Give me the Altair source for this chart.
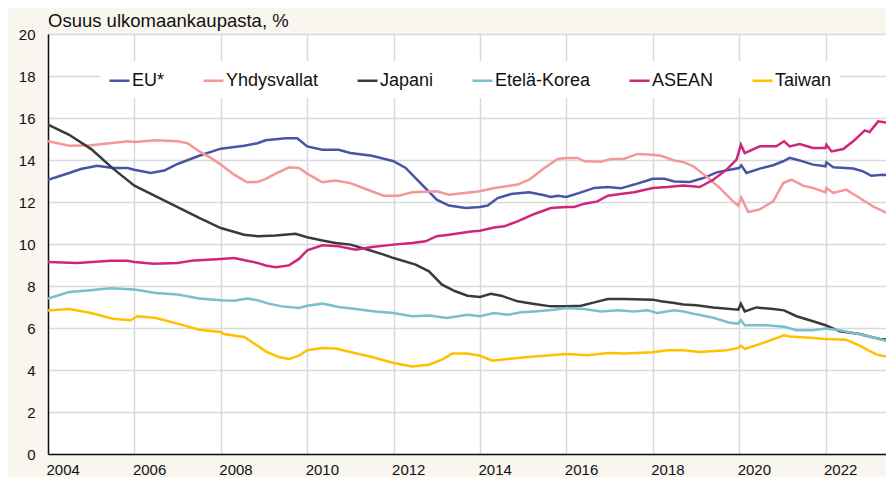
import altair as alt
import pandas as pd

names = ["EU*", "Yhdysvallat", "Japani", "Etelä-Korea", "ASEAN", "Taiwan"]
colors = ["#4a53a4", "#f3979a", "#3a3a3a", "#78c0cc", "#d0267a", "#ffc000"]
x_ticks = [2004, 2006, 2008, 2010, 2012, 2014, 2016, 2018, 2020, 2022]
y_ticks = [0, 2, 4, 6, 8, 10, 12, 14, 16, 18, 20]

eu_t = [2004.0, 2004.49, 2004.76, 2005.14, 2005.5, 2005.84, 2006.0, 2006.38, 2006.69, 2007.0, 2007.5, 2008.0, 2008.54, 2008.85, 2009.04, 2009.5, 2009.77, 2010.0, 2010.35, 2010.73, 2011.0, 2011.5, 2012.0, 2012.28, 2012.51, 2013.0, 2013.28, 2013.67, 2014.0, 2014.18, 2014.41, 2014.72, 2015.14, 2015.49, 2015.64, 2015.8, 2016.0, 2016.34, 2016.65, 2016.96, 2017.26, 2017.57, 2018.0, 2018.27, 2018.5, 2018.86, 2019.17, 2019.48, 2019.78, 2020.0, 2020.05, 2020.17, 2020.48, 2020.79, 2021.02, 2021.17, 2021.4, 2021.71, 2022.0, 2022.02, 2022.18, 2022.64, 2022.87, 2023.06, 2023.33, 2023.58]
eu_v = [13.06, 13.38, 13.57, 13.73, 13.62, 13.62, 13.54, 13.38, 13.5, 13.81, 14.2, 14.54, 14.68, 14.8, 14.94, 15.03, 15.03, 14.65, 14.49, 14.49, 14.33, 14.2, 13.94, 13.62, 13.14, 12.11, 11.83, 11.71, 11.76, 11.83, 12.19, 12.38, 12.46, 12.32, 12.24, 12.3, 12.24, 12.46, 12.67, 12.71, 12.65, 12.83, 13.11, 13.11, 12.98, 12.95, 13.14, 13.41, 13.54, 13.62, 13.75, 13.38, 13.59, 13.75, 13.94, 14.1, 13.98, 13.78, 13.7, 13.89, 13.65, 13.59, 13.46, 13.25, 13.3, 13.25]

us_t = [2004.0, 2004.49, 2005.0, 2005.5, 2005.84, 2006.0, 2006.5, 2007.0, 2007.23, 2007.5, 2007.77, 2008.0, 2008.31, 2008.61, 2008.85, 2009.04, 2009.27, 2009.58, 2009.81, 2010.0, 2010.35, 2010.66, 2011.0, 2011.43, 2011.77, 2012.12, 2012.43, 2013.0, 2013.28, 2013.75, 2014.0, 2014.33, 2014.87, 2015.14, 2015.49, 2015.8, 2016.0, 2016.26, 2016.42, 2016.8, 2017.03, 2017.34, 2017.65, 2018.0, 2018.19, 2018.5, 2018.71, 2018.94, 2019.24, 2019.55, 2019.86, 2019.98, 2020.05, 2020.21, 2020.48, 2020.79, 2021.02, 2021.21, 2021.48, 2021.71, 2022.0, 2022.02, 2022.18, 2022.48, 2022.79, 2023.1, 2023.58]
us_v = [14.89, 14.68, 14.7, 14.81, 14.89, 14.86, 14.94, 14.89, 14.8, 14.41, 14.1, 13.78, 13.3, 12.94, 12.95, 13.1, 13.35, 13.65, 13.62, 13.35, 12.94, 13.02, 12.9, 12.56, 12.3, 12.3, 12.46, 12.51, 12.35, 12.45, 12.51, 12.67, 12.83, 13.06, 13.62, 14.05, 14.1, 14.1, 13.94, 13.92, 14.05, 14.06, 14.29, 14.25, 14.2, 13.98, 13.9, 13.7, 13.22, 12.67, 12.03, 11.83, 12.21, 11.52, 11.65, 12.03, 12.9, 13.06, 12.78, 12.67, 12.46, 12.67, 12.43, 12.59, 12.19, 11.79, 11.32]

jp_t = [2004.0, 2004.49, 2005.0, 2005.5, 2006.0, 2006.5, 2007.0, 2007.5, 2008.0, 2008.54, 2008.85, 2009.27, 2009.73, 2010.0, 2010.35, 2010.66, 2011.0, 2011.35, 2011.74, 2012.0, 2012.51, 2012.82, 2013.12, 2013.43, 2013.71, 2014.0, 2014.25, 2014.49, 2014.87, 2015.26, 2015.64, 2016.0, 2016.34, 2016.65, 2016.96, 2017.34, 2018.0, 2018.19, 2018.5, 2018.71, 2019.01, 2019.4, 2019.98, 2020.04, 2020.13, 2020.4, 2020.79, 2021.04, 2021.33, 2021.71, 2022.0, 2022.33, 2022.79, 2023.06, 2023.26, 2023.58]
jp_v = [15.68, 15.2, 14.52, 13.6, 12.78, 12.27, 11.76, 11.24, 10.76, 10.44, 10.37, 10.4, 10.49, 10.32, 10.17, 10.05, 9.97, 9.76, 9.52, 9.33, 9.02, 8.7, 8.06, 7.75, 7.54, 7.48, 7.63, 7.54, 7.27, 7.14, 7.03, 7.03, 7.06, 7.22, 7.38, 7.38, 7.35, 7.27, 7.19, 7.12, 7.08, 6.98, 6.87, 7.16, 6.79, 6.98, 6.9, 6.84, 6.56, 6.32, 6.13, 5.84, 5.71, 5.57, 5.48, 5.41]

kr_t = [2004.0, 2004.49, 2004.91, 2005.45, 2006.0, 2006.5, 2007.0, 2007.5, 2008.0, 2008.31, 2008.61, 2008.85, 2009.11, 2009.42, 2009.81, 2010.0, 2010.35, 2010.73, 2011.12, 2011.58, 2012.0, 2012.43, 2012.82, 2013.24, 2013.71, 2014.0, 2014.33, 2014.64, 2014.95, 2015.26, 2015.72, 2016.0, 2016.42, 2016.8, 2017.19, 2017.57, 2017.88, 2018.11, 2018.5, 2018.71, 2019.01, 2019.4, 2019.78, 2019.98, 2020.04, 2020.13, 2020.63, 2021.04, 2021.33, 2021.71, 2022.0, 2022.33, 2022.79, 2023.06, 2023.58]
kr_v = [7.4, 7.71, 7.79, 7.89, 7.83, 7.67, 7.59, 7.4, 7.32, 7.3, 7.4, 7.32, 7.16, 7.03, 6.95, 7.06, 7.16, 7.0, 6.9, 6.79, 6.71, 6.56, 6.59, 6.48, 6.63, 6.56, 6.71, 6.63, 6.75, 6.79, 6.87, 6.95, 6.9, 6.79, 6.84, 6.79, 6.84, 6.71, 6.84, 6.79, 6.65, 6.49, 6.25, 6.21, 6.38, 6.13, 6.13, 6.06, 5.89, 5.89, 5.98, 5.89, 5.7, 5.57, 5.3]

as_t = [2004.0, 2004.68, 2005.45, 2005.84, 2006.0, 2006.45, 2007.0, 2007.38, 2008.0, 2008.31, 2008.61, 2008.85, 2009.04, 2009.27, 2009.58, 2009.81, 2010.0, 2010.35, 2010.73, 2011.12, 2011.5, 2012.0, 2012.43, 2012.74, 2013.0, 2013.28, 2013.8, 2014.0, 2014.33, 2014.56, 2014.87, 2015.26, 2015.64, 2016.0, 2016.18, 2016.42, 2016.72, 2016.96, 2017.34, 2017.57, 2018.0, 2018.34, 2018.71, 2019.09, 2019.4, 2019.71, 2019.94, 2020.04, 2020.13, 2020.48, 2020.86, 2021.04, 2021.17, 2021.4, 2021.71, 2022.0, 2022.02, 2022.14, 2022.41, 2022.64, 2022.91, 2023.02, 2023.22, 2023.58]
as_v = [9.14, 9.1, 9.2, 9.2, 9.14, 9.06, 9.1, 9.22, 9.29, 9.33, 9.2, 9.1, 8.98, 8.89, 8.98, 9.29, 9.7, 9.94, 9.89, 9.73, 9.86, 9.97, 10.05, 10.13, 10.37, 10.44, 10.6, 10.63, 10.79, 10.84, 11.08, 11.43, 11.71, 11.76, 11.76, 11.92, 12.03, 12.3, 12.4, 12.46, 12.67, 12.71, 12.78, 12.71, 13.06, 13.54, 14.02, 14.73, 14.33, 14.65, 14.65, 14.89, 14.65, 14.76, 14.57, 14.57, 14.73, 14.41, 14.52, 14.89, 15.41, 15.33, 15.84, 15.73]

tw_t = [2004.0, 2004.49, 2005.0, 2005.5, 2005.91, 2006.07, 2006.5, 2007.0, 2007.5, 2008.0, 2008.07, 2008.54, 2008.85, 2009.04, 2009.34, 2009.58, 2009.81, 2010.0, 2010.35, 2010.66, 2011.0, 2011.5, 2012.0, 2012.43, 2012.82, 2013.12, 2013.36, 2013.71, 2014.0, 2014.29, 2014.64, 2015.1, 2015.64, 2016.0, 2016.49, 2016.96, 2017.34, 2018.0, 2018.34, 2018.71, 2019.09, 2019.71, 2019.98, 2020.04, 2020.13, 2020.56, 2021.04, 2021.17, 2021.71, 2022.0, 2022.48, 2022.79, 2023.18, 2023.58]
tw_v = [6.83, 6.9, 6.71, 6.44, 6.37, 6.56, 6.48, 6.21, 5.92, 5.81, 5.71, 5.57, 5.16, 4.89, 4.62, 4.52, 4.68, 4.94, 5.05, 5.02, 4.86, 4.62, 4.33, 4.17, 4.25, 4.49, 4.78, 4.78, 4.68, 4.44, 4.52, 4.62, 4.7, 4.76, 4.7, 4.81, 4.78, 4.84, 4.94, 4.94, 4.86, 4.94, 5.05, 5.16, 5.0, 5.29, 5.65, 5.6, 5.52, 5.48, 5.44, 5.16, 4.73, 4.57]

series = [(eu_t, eu_v), (us_t, us_v), (jp_t, jp_v), (kr_t, kr_v), (as_t, as_v), (tw_t, tw_v)]
rows = []
for name, (ts, vs) in zip(names, series):
    for t, v in zip(ts, vs):
        rows.append({"s": name, "t": t, "v": v})
df = pd.DataFrame(rows)

FONT = "Liberation Sans"

chart = alt.Chart(df).mark_line(strokeWidth=2.5, clip=True).encode(
    x=alt.X("t:Q", title=None,
            scale=alt.Scale(domain=[2004, 2023.4], nice=False, zero=False),
            axis=alt.Axis(values=x_ticks, format="d", labelAlign="left", labelBaseline="top",
                          labelOffset=-2, labelPadding=8, ticks=False, grid=True)),
    y=alt.Y("v:Q", title=None,
            scale=alt.Scale(domain=[0, 20], nice=False, zero=True),
            axis=alt.Axis(values=y_ticks, ticks=False, labelPadding=13, grid=True,
                          minExtent=35, maxExtent=35)),
    color=alt.Color("s:N", scale=alt.Scale(domain=names, range=colors),
                    legend=alt.Legend(title=None, orient="none", legendX=52, legendY=27,
                                      direction="horizontal", columns=6,
                                      symbolType="stroke", symbolSize=400, symbolStrokeWidth=2.5,
                                      labelFont=FONT, labelFontSize=18, labelColor="#111",
                                      labelOffset=1, columnPadding=33, padding=8,
                                      fillColor="white")),
    detail="s:N",
).properties(
    width=838, height=420,
    padding={"left": 5, "top": 3, "right": 0, "bottom": 0},
    title=alt.TitleParams("Osuus ulkomaankaupasta, %", anchor="start", frame="group", font=FONT,
                          fontSize=18.5, fontWeight="normal", color="#111", offset=0, dy=3),
).configure(
    background="#f9f5ef",
).configure_view(
    fill="white", strokeWidth=0,
).configure_axis(
    gridColor="#d9d9d9", gridWidth=1.5, domainColor="#111", domainWidth=1.5,
    labelFont=FONT, labelFontSize=15, labelColor="#111",
)

chart.save("out.html", embed_options={"renderer": "svg", "actions": False})
